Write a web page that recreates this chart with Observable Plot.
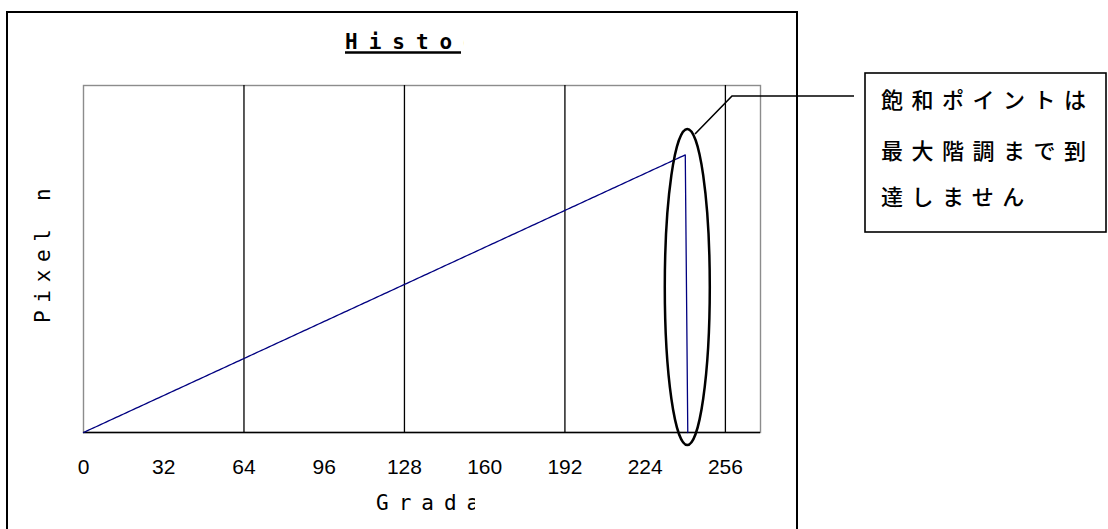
<!DOCTYPE html>
<html><head><meta charset="utf-8">
<script src="https://cdn.jsdelivr.net/npm/d3@7"></script>
<script src="https://cdn.jsdelivr.net/npm/@observablehq/plot@0.6"></script>
<style>body{margin:0;background:#fff;} svg{display:block;}</style>
</head><body><div id="chart"></div>
<script>
// Gradation levels (x) and pixel counts (y)
const gradations = [
  0,1,2,3,4,5,6,7,8,9,10,11,12,13,14,15,16,17,18,19,
  20,21,22,23,24,25,26,27,28,29,30,31,32,33,34,35,36,37,38,39,
  40,41,42,43,44,45,46,47,48,49,50,51,52,53,54,55,56,57,58,59,
  60,61,62,63,64,65,66,67,68,69,70,71,72,73,74,75,76,77,78,79,
  80,81,82,83,84,85,86,87,88,89,90,91,92,93,94,95,96,97,98,99,
  100,101,102,103,104,105,106,107,108,109,110,111,112,113,114,115,116,117,118,119,
  120,121,122,123,124,125,126,127,128,129,130,131,132,133,134,135,136,137,138,139,
  140,141,142,143,144,145,146,147,148,149,150,151,152,153,154,155,156,157,158,159,
  160,161,162,163,164,165,166,167,168,169,170,171,172,173,174,175,176,177,178,179,
  180,181,182,183,184,185,186,187,188,189,190,191,192,193,194,195,196,197,198,199,
  200,201,202,203,204,205,206,207,208,209,210,211,212,213,214,215,216,217,218,219,
  220,221,222,223,224,225,226,227,228,229,230,231,232,233,234,235,236,237,238,239,
  240,241
];
const pixelCounts = [
  0,1,2,3,4,5,6,7,8,9,10,11,12,13,14,15,16,17,18,19,
  20,21,22,23,24,25,26,27,28,29,30,31,32,33,34,35,36,37,38,39,
  40,41,42,43,44,45,46,47,48,49,50,51,52,53,54,55,56,57,58,59,
  60,61,62,63,64,65,66,67,68,69,70,71,72,73,74,75,76,77,78,79,
  80,81,82,83,84,85,86,87,88,89,90,91,92,93,94,95,96,97,98,99,
  100,101,102,103,104,105,106,107,108,109,110,111,112,113,114,115,116,117,118,119,
  120,121,122,123,124,125,126,127,128,129,130,131,132,133,134,135,136,137,138,139,
  140,141,142,143,144,145,146,147,148,149,150,151,152,153,154,155,156,157,158,159,
  160,161,162,163,164,165,166,167,168,169,170,171,172,173,174,175,176,177,178,179,
  180,181,182,183,184,185,186,187,188,189,190,191,192,193,194,195,196,197,198,199,
  200,201,202,203,204,205,206,207,208,209,210,211,212,213,214,215,216,217,218,219,
  220,221,222,223,224,225,226,227,228,229,230,231,232,233,234,235,236,237,238,239,
  240,0
];
const xTicks = [0, 32, 64, 96, 128, 160, 192, 224, 256];
const gridLines = [64, 128, 192, 256];
const titleText = "Histogram";
const xLabel = "Gradation";
const yLabel = "Pixel number";
const noteLines = ["飽和ポイントは", "最大階調まで到", "達しません"];
const dropGradation = 241;

const data = gradations.map((g, i) => ({g, n: pixelCounts[i]}));

const plot = Plot.plot({
  width: 1108, height: 529,
  marginLeft: 83, marginRight: 348, marginTop: 85, marginBottom: 97,
  x: {domain: [0, 270]},
  y: {domain: [0, 300], axis: null},
  style: {background: "white", fontFamily: "'Liberation Sans', sans-serif", color: "#000"},
  marks: [
    Plot.frame({stroke: "#8c8c8c", strokeWidth: 1.4}),
    Plot.ruleX(gridLines, {stroke: "#000", strokeWidth: 1.3}),
    Plot.ruleY([0], {stroke: "#000", strokeWidth: 1.5}),
    Plot.line(data, {x: "g", y: "n", stroke: "#000080", strokeWidth: 1.3}),
    Plot.axisX({ticks: xTicks, tickSize: 0, tickPadding: 27, fontSize: 21,
      tickFormat: d => `${d}`, label: null})
  ]
});
document.getElementById("chart").appendChild(plot);

const svg = d3.select(plot);
const xs = plot.scale("x");
const mono = "'DejaVu Sans Mono', 'Liberation Mono', monospace";

// outer chart-area border (open at the bottom edge)
svg.append("path").attr("d", "M7,529V12H797V529")
  .attr("fill", "none").attr("stroke", "#000").attr("stroke-width", 2);

const defs = svg.append("defs");
defs.append("clipPath").attr("id", "clipTitle").append("rect")
  .attr("x", 330).attr("y", 20).attr("width", 134).attr("height", 40);
defs.append("clipPath").attr("id", "clipX").append("rect")
  .attr("x", 360).attr("y", 480).attr("width", 115).attr("height", 40);
defs.append("clipPath").attr("id", "clipY").append("rect")
  .attr("x", 20).attr("y", 185).attr("width", 50).attr("height", 150);

// title (clipped like the reference)
const tg = svg.append("g").attr("clip-path", "url(#clipTitle)");
tg.append("text").text(titleText)
  .attr("x", 345).attr("y", 49).attr("text-anchor", "start")
  .attr("font-family", mono).attr("font-weight", "bold")
  .attr("font-size", 21).attr("letter-spacing", 11).attr("fill", "#000");
tg.append("line").attr("x1", 345).attr("x2", 461).attr("y1", 52.5).attr("y2", 52.5)
  .attr("stroke", "#000").attr("stroke-width", 2.4);

// x label
svg.append("g").attr("clip-path", "url(#clipX)").append("text").text(xLabel)
  .attr("x", 376).attr("y", 510).attr("text-anchor", "start")
  .attr("font-family", mono)
  .attr("font-size", 21).attr("letter-spacing", 10).attr("fill", "#000");

// y label
svg.append("g").attr("clip-path", "url(#clipY)").append("text").text(yLabel)
  .attr("transform", "translate(50,323) rotate(-90)").attr("text-anchor", "start")
  .attr("font-family", mono)
  .attr("font-size", 21).attr("letter-spacing", 7.7).attr("fill", "#000");

// ellipse around the drop point
const cx = xs.apply(dropGradation);
svg.append("ellipse").attr("cx", cx).attr("cy", 287).attr("rx", 22.5).attr("ry", 158)
  .attr("fill", "none").attr("stroke", "#000").attr("stroke-width", 2.5);

// leader line
svg.append("polyline").attr("points", "695,134 732,96 854,96")
  .attr("fill", "none").attr("stroke", "#000").attr("stroke-width", 1.6);

// callout box
svg.append("rect").attr("x", 865).attr("y", 73).attr("width", 241).attr("height", 159)
  .attr("fill", "#fff").attr("stroke", "#000").attr("stroke-width", 1.6);
noteLines.forEach((s, i) => {
  svg.append("text").text(s)
    .attr("x", 881).attr("y", [98, 149, 195][i]).attr("text-anchor", "start")
    .attr("dominant-baseline", "central")
    .attr("font-family", "'Noto Sans CJK JP', sans-serif").attr("font-weight", 500)
    .attr("font-size", 22).attr("letter-spacing", 8.5).attr("fill", "#000");
});
</script>
</body></html>
